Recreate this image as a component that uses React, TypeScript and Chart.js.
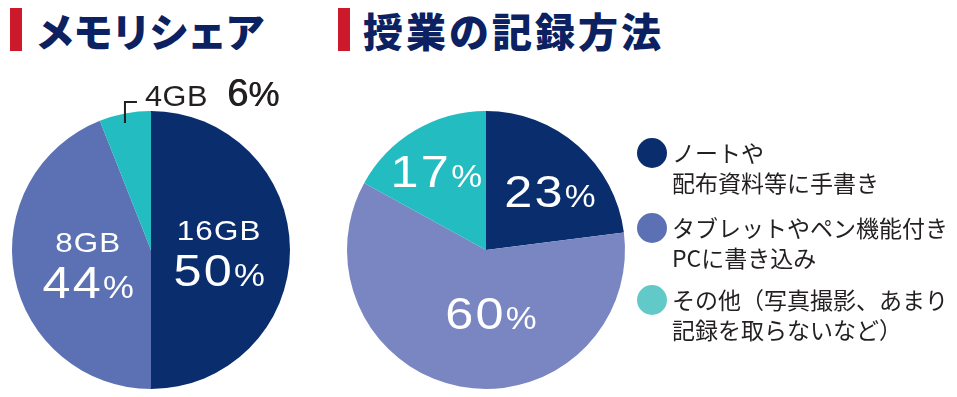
import React, { useEffect, useRef } from 'react';
import { Chart, registerables } from 'chart.js';

Chart.register(...registerables);

// ---------- data ----------
const memTitle = 'メモリシェア';
const memCategories = ['16GB', '8GB', '4GB'];
const memValues = [50, 44, 6];
const memColors = ['#0a2d6e', '#5b71b4', '#22bcc1'];

const recTitle = '授業の記録方法';
const recCategories = [
  'ノートや配布資料等に手書き',
  'タブレットやペン機能付きPCに書き込み',
  'その他（写真撮影、あまり記録を取らないなど）',
];
const recLegendLines = [
  ['ノートや', '配布資料等に手書き'],
  ['タブレットやペン機能付き', 'PCに書き込み'],
  ['その他（写真撮影、あまり', '記録を取らないなど）'],
];
const recValues = [23, 60, 17];
const recColors = ['#0a2d6e', '#7986c2', '#22bcc1'];
const recLegendColors = ['#0a2d6e', '#5b71b4', '#62c9c9'];

const NUM_FONT = '"Liberation Sans", Arial, sans-serif';
const JP_FONT = '"Noto Sans CJK JP", "Noto Sans", sans-serif';

type LabelCfg = {
  kind: 'inside' | 'leader';
  f?: number;
  dx?: number;
  dy?: number;
  showCategory?: boolean;
};

function measure(ctx: CanvasRenderingContext2D, text: string, font: string, spacing: number, sx: number) {
  ctx.font = font;
  (ctx as any).letterSpacing = spacing + 'px';
  const w = ctx.measureText(text).width * sx;
  (ctx as any).letterSpacing = '0px';
  return w;
}

function drawScaled(
  ctx: CanvasRenderingContext2D,
  text: string,
  x: number,
  baseline: number,
  font: string,
  spacing: number,
  sx: number
) {
  ctx.save();
  ctx.font = font;
  (ctx as any).letterSpacing = spacing + 'px';
  ctx.textAlign = 'left';
  ctx.textBaseline = 'alphabetic';
  ctx.translate(x, baseline);
  ctx.scale(sx, 1);
  ctx.fillText(text, 0, 0);
  ctx.restore();
}

function drawPercent(
  ctx: CanvasRenderingContext2D,
  value: number,
  x: number,
  baseline: number,
  numSize: number,
  pctSize: number,
  color: string,
  spacing: number,
  sx: number,
  align: 'center' | 'left' = 'center'
) {
  const txt = String(value);
  const nf = `${numSize}px ${NUM_FONT}`;
  const pf = `${pctSize}px ${NUM_FONT}`;
  const w1 = measure(ctx, txt, nf, spacing, sx);
  const w2 = measure(ctx, '%', pf, 0, sx);
  const start = align === 'center' ? x - (w1 + w2) / 2 : x;
  ctx.fillStyle = color;
  drawScaled(ctx, txt, start, baseline, nf, spacing, sx);
  drawScaled(ctx, '%', start + w1, baseline, pf, 0, sx);
}

const sliceLabelPlugin = {
  id: 'sliceLabels',
  afterDatasetsDraw(chart: any, _args: any, opts: any) {
    const ctx: CanvasRenderingContext2D = chart.ctx;
    const meta = chart.getDatasetMeta(0);
    const data: number[] = chart.data.datasets[0].data;
    const labels: string[] = chart.data.labels;
    const cfgs: LabelCfg[] = opts.items || [];
    ctx.save();
    meta.data.forEach((arc: any, i: number) => {
      const cfg = cfgs[i];
      if (!cfg) return;
      const p = arc.getProps(['x', 'y', 'startAngle', 'endAngle', 'outerRadius'], true);
      const mid = (p.startAngle + p.endAngle) / 2;
      const r = p.outerRadius;
      if (cfg.kind === 'inside') {
        const cx = p.x + Math.cos(mid) * r * (cfg.f || 0.5) + (cfg.dx || 0);
        const cy = p.y + Math.sin(mid) * r * (cfg.f || 0.5) + (cfg.dy || 0);
        if (cfg.showCategory) {
          ctx.fillStyle = '#ffffff';
          const cf = `28px ${NUM_FONT}`;
          const cw = measure(ctx, labels[i], cf, 1, 1.12);
          drawScaled(ctx, labels[i], cx - cw / 2, cy - 10, cf, 1, 1.12);
          drawPercent(ctx, data[i], cx, cy + 36, 45, 31, '#ffffff', 2, 1.12);
        } else {
          drawPercent(ctx, data[i], cx, cy + 16, 45, 31, '#ffffff', 2, 1.12);
        }
      } else {
        const ax = p.x + Math.cos(mid) * r;
        const ay = p.y + Math.sin(mid) * r * 0.93;
        const topY = p.y - r - 9;
        ctx.strokeStyle = '#231f20';
        ctx.lineWidth = 2;
        ctx.beginPath();
        ctx.moveTo(ax, ay);
        ctx.lineTo(ax, topY);
        ctx.lineTo(ax + 12, topY);
        ctx.stroke();
        const base = p.y - r - 5;
        ctx.fillStyle = '#231f20';
        const lf = `29px ${NUM_FONT}`;
        const tx = ax + 20;
        drawScaled(ctx, labels[i], tx, base, lf, 0.5, 1.06);
        const w = measure(ctx, labels[i], lf, 0.5, 1.06);
        drawPercent(ctx, data[i], tx + w + 19, base, 38, 35, '#231f20', 0, 1.0, 'left');
        // slightly heavier "6%"
        drawPercent(ctx, data[i], tx + w + 19.6, base, 38, 35, '#231f20', 0, 1.0, 'left');
      }
    });
    ctx.restore();
  },
};

function PieCanvas(props: {
  labels: string[];
  values: number[];
  colors: string[];
  padding: { left: number; right: number; top: number; bottom: number };
  items: LabelCfg[];
}) {
  const ref = useRef<HTMLCanvasElement | null>(null);
  useEffect(() => {
    if (!ref.current) return;
    const chart = new Chart(ref.current, {
      type: 'pie',
      data: {
        labels: props.labels,
        datasets: [
          {
            data: props.values,
            backgroundColor: props.colors,
            borderWidth: 0,
          },
        ],
      },
      options: {
        responsive: false,
        maintainAspectRatio: false,
        animation: false,
        layout: { padding: props.padding },
        plugins: {
          legend: { display: false },
          tooltip: { enabled: false },
          sliceLabels: { items: props.items },
        } as any,
      },
      plugins: [sliceLabelPlugin as any],
    });
    return () => chart.destroy();
  }, []);
  return (
    <canvas
      ref={ref}
      width={957}
      height={397}
      style={{ position: 'absolute', left: 0, top: 0, width: 957, height: 397 }}
    />
  );
}

function Title(props: { text: string; barLeft: number; textLeft: number; spacing: number }) {
  return (
    <>
      <div
        style={{
          position: 'absolute',
          left: props.barLeft,
          top: 8,
          width: 12,
          height: 43,
          background: '#cc1a2c',
        }}
      />
      <div
        style={{
          position: 'absolute',
          left: props.textLeft,
          top: 8,
          height: 44,
          lineHeight: '44px',
          fontFamily: JP_FONT,
          fontWeight: 900,
          fontSize: 40,
          letterSpacing: props.spacing,
          color: '#0b2161',
          whiteSpace: 'nowrap',
        }}
      >
        {props.text}
      </div>
    </>
  );
}

export default function App() {
  const legendTops = [138, 213, 285];
  return (
    <div
      style={{
        position: 'absolute',
        left: 0,
        top: 0,
        width: 957,
        height: 397,
        background: '#ffffff',
        overflow: 'hidden',
      }}
    >
      <Title text={memTitle} barLeft={10} textLeft={35} spacing={-2} />
      <Title text={recTitle} barLeft={338} textLeft={363} spacing={3} />
      <PieCanvas
        labels={memCategories}
        values={memValues}
        colors={memColors}
        padding={{ left: 12, right: 667, top: 111, bottom: 8 }}
        items={[
          { kind: 'inside', f: 0.49, dx: 0, dy: 0, showCategory: true },
          { kind: 'inside', f: 0.46, dx: 0, dy: 0, showCategory: true },
          { kind: 'leader' },
        ]}
      />
      <PieCanvas
        labels={recCategories}
        values={recValues}
        colors={recColors}
        padding={{ left: 347, right: 332, top: 111, bottom: 8 }}
        items={[
          { kind: 'inside', f: 0.62, dx: 7, dy: 6 },
          { kind: 'inside', f: 0.46, dx: 17, dy: 0 },
          { kind: 'inside', f: 0.66, dx: -3, dy: 0 },
        ]}
      />
      {recLegendLines.map((lines, i) => (
        <div key={i}>
          <div
            style={{
              position: 'absolute',
              left: 637,
              top: legendTops[i],
              width: 30,
              height: 30,
              borderRadius: '50%',
              background: recLegendColors[i],
            }}
          />
          <div
            style={{
              position: 'absolute',
              left: 672,
              top: legendTops[i],
              fontFamily: JP_FONT,
              fontSize: 23,
              lineHeight: '29.5px',
              color: '#231f20',
              whiteSpace: 'nowrap',
            }}
          >
            {lines.map((l, j) => (
              <div key={j} style={{ height: 29.5 }}>
                {l}
              </div>
            ))}
          </div>
        </div>
      ))}
    </div>
  );
}
